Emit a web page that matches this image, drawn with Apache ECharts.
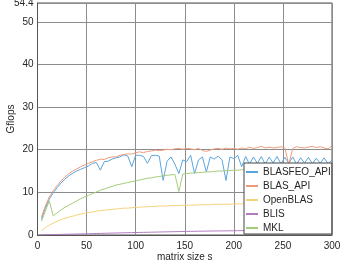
<!DOCTYPE html>
<html><head><meta charset="utf-8">
<script src="https://cdn.jsdelivr.net/npm/echarts@6/dist/echarts.min.js"></script>
<style>html,body{margin:0;padding:0;background:#fff}#c{width:341px;height:263px}</style>
</head><body><div id="c"></div>
<script>
var sizes = [4,8,12,16,20,24,28,32,36,40,44,48,52,56,60,64,68,72,76,80,84,88,92,96,100,104,108,112,116,120,124,128,132,136,140,144,148,152,156,160,164,168,172,176,180,184,188,192,196,200,204,208,212,216,220,224,228,232,236,240,244,248,252,256,260,264,268,272,276,280,284,288,292,296,300];
var blasfeoApi = [3.7,6.3,8.4,9.9,11.1,12.2,13.1,13.9,14.5,15.0,15.4,15.8,16.2,16.8,17.0,15.2,17.2,17.3,17.8,18.1,18.3,18.8,18.5,16.0,18.7,18.7,18.4,16.8,18.6,18.7,18.5,12.8,17.3,18.3,16.6,14.4,17.6,17.2,18.7,14.4,17.6,18.3,14.8,18.3,17.8,18.5,17.6,12.8,18.3,17.9,18.7,16.0,18.4,16.6,18.3,16.8,18.4,16.6,18.3,16.9,18.4,16.7,18.2,16.8,18.3,16.6,18.1,16.9,18.2,16.7,18.0,16.8,18.1,16.7,17.6];
var blasApi = [4.2,6.8,8.9,10.4,11.6,12.7,13.6,14.4,15.0,15.5,16.0,16.4,16.8,17.2,17.5,17.8,17.7,18.1,18.3,18.3,18.7,18.9,19.0,19.0,19.3,19.5,19.3,19.6,19.7,19.9,19.8,19.9,20.1,20.0,20.2,20.3,20.1,20.3,20.2,20.0,20.3,19.8,19.6,19.9,20.2,20.3,20.1,20.4,20.2,20.3,20.1,20.4,20.2,20.6,20.3,20.5,20.8,20.4,20.6,20.4,20.5,20.7,20.4,16.5,20.3,20.7,20.5,20.4,20.6,20.8,20.5,20.7,20.4,20.2,21.0];
var openBlas = [1.0,1.7,2.3,2.8,3.2,3.6,3.9,4.2,4.4,4.7,4.9,5.1,5.3,5.4,5.6,5.7,5.8,5.9,6.0,6.1,6.2,6.3,6.3,6.4,6.5,6.5,6.6,6.6,6.7,6.7,6.8,6.8,6.8,6.9,6.9,6.9,7.0,7.0,7.0,7.0,7.1,7.1,7.1,7.1,7.2,7.2,7.2,7.2,7.2,7.3,7.3,7.3,7.3,7.3,7.4,7.4,7.4,7.4,7.4,7.4,7.5,7.5,7.5,7.5,7.5,7.5,7.5,7.6,7.6,7.6,7.6,7.6,7.6,7.6,7.6];
var blis = [0.05,0.07,0.09,0.11,0.13,0.15,0.17,0.19,0.21,0.23,0.26,0.28,0.3,0.32,0.35,0.37,0.4,0.42,0.44,0.47,0.49,0.51,0.54,0.56,0.58,0.6,0.62,0.64,0.66,0.68,0.7,0.72,0.74,0.76,0.78,0.8,0.82,0.84,0.86,0.87,0.89,0.9,0.91,0.93,0.94,0.95,0.96,0.97,0.98,1.0,1.01,1.02,1.03,1.04,1.05,1.06,1.07,1.08,1.09,1.1,1.1,1.11,1.12,1.13,1.13,1.14,1.15,1.15,1.16,1.17,1.17,1.18,1.18,1.19,1.2];
var mkl = [3.2,5.6,8.0,4.5,5.2,5.9,6.5,7.0,7.5,8.0,8.5,8.9,9.3,9.7,10.1,10.5,10.8,11.1,11.4,11.7,11.9,12.1,12.3,12.5,12.7,12.9,13.1,13.3,13.4,13.6,13.7,13.9,14.0,14.1,14.2,10.2,14.3,14.4,14.5,14.6,14.6,14.7,14.8,14.8,14.9,15.0,15.0,15.1,15.1,15.2,15.2,15.3,15.3,15.4,15.4,15.5,15.5,15.6,15.6,15.6,15.7,15.7,15.8,15.8,15.8,15.9,15.9,15.9,16.0,16.0,16.0,16.1,16.1,16.1,16.2];
var seriesNames = ['BLASFEO_API','BLAS_API','OpenBLAS','BLIS','MKL'];
var seriesData = [blasfeoApi, blasApi, openBlas, blis, mkl];
var colors = ['#5aa5de','#ee9a7c','#f5d27a','#b07cc0','#a5cc7c'];
var xTicks = [0,50,100,150,200,250,300];
var yTicks = [0,10,20,30,40,50,54.4];

var font = 'Liberation Sans, Arial, sans-serif';
var chart = echarts.init(document.getElementById('c'), null, {renderer:'canvas'});
var series = seriesNames.map(function(n,i){
  return {
    name:n, type:'line', symbol:'none', showSymbol:false, animation:false,
    data: sizes.map(function(s,j){return [s, seriesData[i][j]];}),
    lineStyle:{width:1, color:colors[i]}, itemStyle:{color:colors[i]}, z:2
  };
});
chart.setOption({
  animation:false,
  grid:{left:37.5, right:9, top:3, bottom:28, outerBoundsMode:'none', containLabel:false,
    show:true, borderColor:'#555', borderWidth:1, backgroundColor:'transparent'},
  xAxis:{type:'value', min:xTicks[0], max:xTicks[xTicks.length-1], interval:50,
    name:'matrix size s', nameLocation:'middle', nameGap:17, nameMoveOverlap:false,
    nameTextStyle:{fontSize:10, color:'#262626', fontFamily:font},
    axisLine:{show:true, lineStyle:{color:'#555'}}, axisTick:{show:false},
    axisLabel:{fontSize:10, color:'#262626', fontFamily:font, margin:6},
    splitLine:{show:true, lineStyle:{color:'#8c8c8c', width:1}}},
  yAxis:{type:'value', min:yTicks[0], max:yTicks[yTicks.length-1], interval:10,
    name:'Gflops', nameLocation:'middle', nameGap:21, nameMoveOverlap:false,
    nameTextStyle:{fontSize:10, color:'#262626', fontFamily:font},
    axisLine:{show:true, lineStyle:{color:'#555'}}, axisTick:{show:false},
    axisLabel:{fontSize:10, color:'#262626', fontFamily:font, margin:4, showMaxLabel:true,
      formatter:function(v){return (Math.abs(v-54.4)<1e-6)?'54.4':String(v);}},
    splitLine:{show:true, lineStyle:{color:'#8c8c8c', width:1}}},
  legend:{show:true, orient:'vertical', left:244, top:163,
    backgroundColor:'#fff', borderColor:'#444', borderWidth:1,
    padding:[4,1,1,1], itemWidth:12, itemHeight:10, itemGap:4,
    itemStyle:{opacity:0},
    textStyle:{fontSize:10, color:'#262626', fontFamily:font}},
  series:series
});
</script></body></html>
